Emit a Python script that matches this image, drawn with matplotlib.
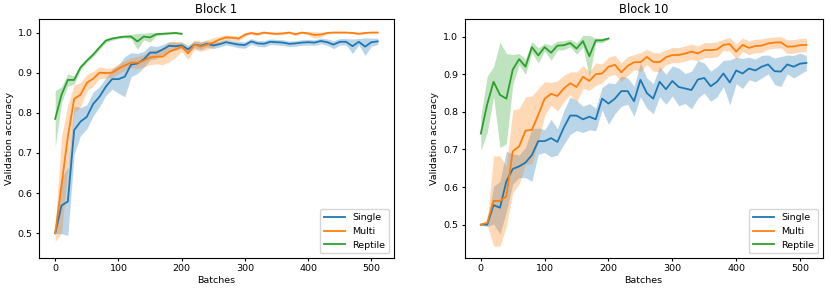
import matplotlib.pyplot as plt
import numpy as np

batches = np.arange(0, 520, 10)
reptile_batches = np.arange(0, 210, 10)

# Block 1
b1_single = [0.50, 0.569, 0.579, 0.757, 0.778, 0.79, 0.822, 0.84, 0.865, 0.884,
             0.884, 0.89, 0.92, 0.923, 0.933, 0.95, 0.95, 0.958, 0.967, 0.966,
             0.968, 0.958, 0.97, 0.967, 0.972, 0.968, 0.971, 0.976, 0.973, 0.97,
             0.969, 0.978, 0.973, 0.972, 0.977, 0.976, 0.975, 0.972, 0.973, 0.975,
             0.976, 0.975, 0.979, 0.976, 0.97, 0.977, 0.977, 0.966, 0.977, 0.965,
             0.976, 0.978]
b1_single_sd = [0.0, 0.07, 0.085, 0.06, 0.035, 0.03, 0.03, 0.025, 0.022, 0.025,
                0.035, 0.05, 0.03, 0.025, 0.02, 0.018, 0.015, 0.012, 0.01, 0.01,
                0.008, 0.01, 0.008, 0.01, 0.008, 0.008, 0.007, 0.007, 0.007, 0.008,
                0.008, 0.007, 0.007, 0.008, 0.007, 0.007, 0.007, 0.007, 0.007, 0.007,
                0.007, 0.007, 0.007, 0.008, 0.01, 0.008, 0.008, 0.018, 0.008, 0.022,
                0.01, 0.008]
b1_multi = [0.50, 0.62, 0.74, 0.835, 0.845, 0.875, 0.885, 0.90, 0.899, 0.90,
            0.91, 0.918, 0.925, 0.925, 0.93, 0.938, 0.94, 0.94, 0.952, 0.958,
            0.965, 0.948, 0.97, 0.965, 0.97, 0.975, 0.983, 0.988, 0.987, 0.985,
            0.995, 0.999, 0.996, 1.0, 0.998, 0.997, 0.998, 1.0, 0.996, 1.0,
            0.998, 0.994, 0.995, 0.999, 1.0, 1.0, 1.0, 0.999, 0.997, 0.999,
            1.0, 1.0]
b1_multi_sd = [0.02, 0.12, 0.08, 0.035, 0.03, 0.02, 0.018, 0.015, 0.012, 0.012,
               0.012, 0.012, 0.012, 0.015, 0.015, 0.018, 0.018, 0.02, 0.025, 0.02,
               0.012, 0.015, 0.012, 0.012, 0.012, 0.012, 0.008, 0.006, 0.006, 0.006,
               0.004, 0.003, 0.004, 0.002, 0.003, 0.003, 0.003, 0.002, 0.004, 0.002,
               0.004, 0.008, 0.006, 0.002, 0.001, 0.001, 0.001, 0.002, 0.003, 0.002,
               0.001, 0.001]
b1_reptile = [0.785, 0.845, 0.882, 0.882, 0.913, 0.93, 0.945, 0.963, 0.98, 0.985,
              0.988, 0.99, 0.99, 0.978, 0.99, 0.988, 0.996, 0.997, 0.998, 0.999,
              0.997]
b1_reptile_sd = [0.07, 0.02, 0.015, 0.01, 0.006, 0.005, 0.005, 0.005, 0.005, 0.004,
                 0.003, 0.003, 0.005, 0.02, 0.008, 0.012, 0.004, 0.003, 0.002, 0.002,
                 0.002]

# Block 10
b10_single = [0.50, 0.50, 0.552, 0.545, 0.615, 0.648, 0.655, 0.665, 0.685, 0.722,
              0.722, 0.73, 0.72, 0.758, 0.79, 0.79, 0.78, 0.787, 0.78, 0.835,
              0.822, 0.835, 0.855, 0.855, 0.828, 0.885, 0.85, 0.835, 0.88, 0.86,
              0.882, 0.866, 0.862, 0.858, 0.886, 0.89, 0.868, 0.88, 0.902, 0.878,
              0.91, 0.902, 0.915, 0.91, 0.92, 0.926, 0.908, 0.907, 0.926, 0.92,
              0.928, 0.93]
b10_single_sd = [0.0, 0.005, 0.05, 0.07, 0.08, 0.04, 0.03, 0.04, 0.07, 0.035,
                 0.03, 0.05, 0.035, 0.045, 0.05, 0.04, 0.035, 0.035, 0.03, 0.03,
                 0.055, 0.04, 0.04, 0.035, 0.04, 0.045, 0.04, 0.04, 0.04, 0.04,
                 0.04, 0.05, 0.04, 0.05, 0.05, 0.04, 0.04, 0.04, 0.035, 0.06,
                 0.035, 0.04, 0.03, 0.03, 0.03, 0.025, 0.035, 0.04, 0.025, 0.03,
                 0.028, 0.02]
b10_multi = [0.50, 0.505, 0.563, 0.563, 0.575, 0.695, 0.708, 0.75, 0.752, 0.792,
             0.835, 0.848, 0.842, 0.862, 0.876, 0.866, 0.893, 0.882, 0.90, 0.902,
             0.92, 0.925, 0.905, 0.922, 0.932, 0.932, 0.946, 0.933, 0.932, 0.945,
             0.951, 0.951, 0.955, 0.96, 0.955, 0.964, 0.964, 0.966, 0.978, 0.98,
             0.96, 0.978, 0.97, 0.975, 0.976, 0.982, 0.984, 0.985, 0.973, 0.974,
             0.977, 0.978]
b10_multi_sd = [0.0, 0.005, 0.12, 0.12, 0.08, 0.11, 0.1, 0.09, 0.09, 0.07,
                0.045, 0.03, 0.04, 0.035, 0.03, 0.04, 0.03, 0.025, 0.03, 0.025,
                0.025, 0.025, 0.025, 0.025, 0.02, 0.025, 0.02, 0.025, 0.025, 0.02,
                0.02, 0.02, 0.02, 0.02, 0.02, 0.02, 0.02, 0.02, 0.015, 0.018,
                0.02, 0.018, 0.018, 0.018, 0.018, 0.015, 0.015, 0.015, 0.018, 0.018,
                0.018, 0.018]
b10_reptile = [0.742, 0.82, 0.88, 0.845, 0.835, 0.912, 0.94, 0.92, 0.972, 0.95,
               0.972, 0.957, 0.976, 0.977, 0.983, 0.968, 0.988, 0.948, 0.99, 0.99,
               0.995]
b10_reptile_sd = [0.045, 0.075, 0.04, 0.14, 0.12, 0.04, 0.015, 0.02, 0.015, 0.02,
                  0.01, 0.02, 0.012, 0.012, 0.01, 0.015, 0.015, 0.055, 0.006, 0.006,
                  0.003]

blocks = [
    ("Block 1", b1_single, b1_single_sd, b1_multi, b1_multi_sd, b1_reptile, b1_reptile_sd, (0.438, 1.034)),
    ("Block 10", b10_single, b10_single_sd, b10_multi, b10_multi_sd, b10_reptile, b10_reptile_sd, (0.411, 1.047)),
]

fig = plt.figure(figsize=(8.31, 2.91), dpi=100)
positions = [[0.047, 0.113, 0.427, 0.822], [0.559, 0.113, 0.431, 0.822]]

for pos, (title, single, single_sd, multi, multi_sd, rep, rep_sd, ylim) in zip(positions, blocks):
    ax = fig.add_axes(pos)
    series = [
        (batches, single, single_sd, "Single", "tab:blue"),
        (batches, multi, multi_sd, "Multi", "tab:orange"),
        (reptile_batches, rep, rep_sd, "Reptile", "tab:green"),
    ]
    for x, mean, sd, label, color in series:
        mean = np.array(mean)
        sd = np.array(sd)
        ax.plot(x, mean, color=color, label=label, linewidth=1.3)
        ax.fill_between(x, mean - sd, np.minimum(mean + sd, 1.005), color=color, alpha=0.3, linewidth=0)
    ax.set_ylim(*ylim)
    ax.set_xlim(-25.5, 535.5)
    ax.set_title(title, fontsize=8.3, pad=4)
    ax.set_xlabel("Batches", fontsize=6.8, labelpad=2)
    ax.set_ylabel("Validation accuracy", fontsize=6.8, labelpad=3)
    ax.tick_params(labelsize=6.8, length=2.5, pad=2)
    ax.legend(loc="lower right", fontsize=6.8, handlelength=2.2)

fig.savefig("out.png", dpi=100)
